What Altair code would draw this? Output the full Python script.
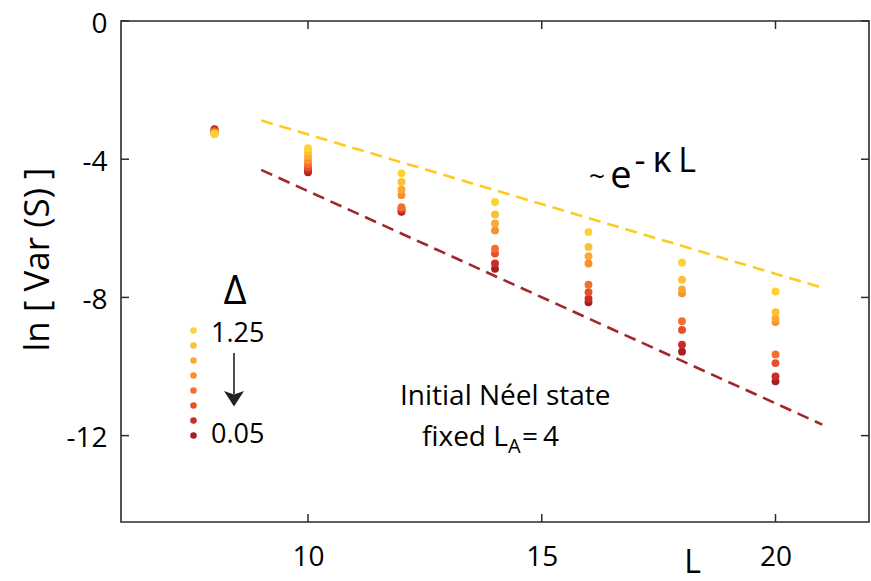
import altair as alt
import pandas as pd

# System sizes L and the eight anisotropies Delta (1.25 down to 0.05)
system_sizes = [8, 10, 12, 14, 16, 18, 20]
delta_labels = ["1.25", "1.10", "0.95", "0.80", "0.60", "0.40", "0.20", "0.05"]
delta_colors = ["#FFD22F", "#FDBF34", "#FBA935", "#F98F31",
                "#F3702C", "#E94F27", "#CD2B27", "#A31F24"]

# ln[Var(S)] for each Delta, one value per system size
ln_var = [
    [-3.26, -3.68, -4.41, -5.24, -6.11, -6.99, -7.83],
    [-3.27, -3.80, -4.66, -5.60, -6.54, -7.49, -8.43],
    [-3.26, -3.91, -4.88, -5.86, -6.81, -7.77, -8.61],
    [-3.24, -4.03, -5.04, -6.06, -7.02, -7.88, -8.71],
    [-3.21, -4.14, -5.39, -6.59, -7.63, -8.69, -9.65],
    [-3.18, -4.23, -5.43, -6.73, -7.85, -8.94, -9.90],
    [-3.15, -4.32, -5.48, -7.02, -8.04, -9.37, -10.29],
    [-3.13, -4.38, -5.52, -7.17, -8.14, -9.57, -10.43],
]

# Exponential-decay guide lines ~ e^{-kappa L}
fit_L = [9, 21]
fit_upper = [-2.88, -7.72]
fit_lower = [-4.31, -11.68]

x_ticks = [10, 15, 20]
y_ticks = [0, -4, -8, -12]

FONT = "Open Sans"
FRAME = "#2b2b2b"
W, H = 748, 501
TICK = 8

x_scale = alt.Scale(domain=[6, 22], nice=False, zero=False)
y_scale = alt.Scale(domain=[-14.5, 0], nice=False, zero=False)

# one axis definition per channel, shared by every layer
x_axis = alt.Axis(values=x_ticks, title="L", grid=False, domain=False,
                  ticks=False, tickSize=0, labelFontSize=28, labelFont=FONT,
                  labelColor="black", labelPadding=21, labelFlush=False,
                  titleFont=FONT, titleFontSize=32, titleFontWeight="normal",
                  titleColor="black", titleX=571, titleY=50,
                  titleBaseline="alphabetic", titleAlign="center")
y_axis = alt.Axis(values=y_ticks, title="ln [ Var (S) ]", grid=False,
                  domain=False, ticks=False, tickSize=0, labelFontSize=28,
                  labelFont=FONT, labelColor="black", labelPadding=14,
                  labelFlush=False, labelBaseline="middle", labelOffset=3,
                  labelExpr="'' + datum.value",
                  titleFont=FONT, titleFontSize=35, titleFontWeight="normal",
                  titleColor="black", titleX=-84, titleY=238, titleAngle=270,
                  titleBaseline="middle", titleAlign="center")


def xenc(field):
    return alt.X(field, type="quantitative", scale=x_scale, axis=x_axis)


def yenc(field):
    return alt.Y(field, type="quantitative", scale=y_scale, axis=y_axis)


rows = []
for label, series in zip(delta_labels, ln_var):
    for L, v in zip(system_sizes, series):
        rows.append({"L": L, "lnvar": v, "delta": label})
# darkest series first so the yellow ones sit on top
points_df = pd.DataFrame(rows).iloc[::-1].reset_index(drop=True)

points = alt.Chart(points_df).mark_circle(size=62, opacity=1).encode(
    x=xenc("L"),
    y=yenc("lnvar"),
    color=alt.Color("delta:N",
                    scale=alt.Scale(domain=delta_labels, range=delta_colors),
                    legend=alt.Legend(orient="none", legendX=69, legendY=306,
                                      title=None, symbolType="circle", symbolSize=42,
                                      symbolStrokeWidth=0, symbolOpacity=1,
                                      labelExpr="''", labelFontSize=4, rowPadding=8,
                                      padding=0)),
)

fit_df = pd.DataFrame({"L": fit_L, "lnvar": fit_upper, "lower": fit_lower})
upper_line = alt.Chart(fit_df).mark_line(color="#FDCB22", strokeWidth=2.6,
                                         strokeDash=[12, 7]).encode(
    x=xenc("L"), y=yenc("lnvar"))
lower_line = alt.Chart(fit_df).mark_line(color="#A3262B", strokeWidth=2.6,
                                         strokeDash=[12, 7]).encode(
    x=xenc("L"), y=yenc("lower"))

# inward-pointing ticks on all four sides of the box
ytick_df = pd.DataFrame({"lnvar": y_ticks})
xtick_df = pd.DataFrame({"L": x_ticks})
tick_style = dict(color=FRAME, strokeWidth=1.5)
left_ticks = alt.Chart(ytick_df).mark_rule(**tick_style).encode(
    y=yenc("lnvar"), x=alt.value(0), x2=alt.value(TICK))
right_ticks = alt.Chart(ytick_df).mark_rule(**tick_style).encode(
    y=yenc("lnvar"), x=alt.value(W - TICK), x2=alt.value(W))
bottom_ticks = alt.Chart(xtick_df).mark_rule(**tick_style).encode(
    x=xenc("L"), y=alt.value(H - TICK), y2=alt.value(H))
top_ticks = alt.Chart(xtick_df).mark_rule(**tick_style).encode(
    x=xenc("L"), y=alt.value(0), y2=alt.value(TICK))

anchor = alt.Data(values=[{}])


def note(text, x, y, size, align="left", baseline="alphabetic"):
    return alt.Chart(anchor).mark_text(font=FONT, fontSize=size, align=align,
                                       baseline=baseline, color="black").encode(
        x=alt.value(x), y=alt.value(y), text=alt.value(text))


notes = [
    note("\u0394", 114, 283, 40, align="center"),
    note("1.25", 90, 321, 27),
    note("0.05", 90, 422, 27),
    note("~", 476, 165, 28, align="center"),
    note("e", 500, 167, 38, align="center"),
    note("-", 519, 151, 34, align="center"),
    note("\u03ba", 541, 151, 36, align="center"),
    note("L", 566, 151, 34, align="center"),
    note("Initial N\u00e9el state", 279, 384, 28),
    note("fixed L", 301, 425, 28),
    note("A", 387, 432, 20),
    note("=", 409, 425, 28, align="center"),
    note("4", 430, 425, 28, align="center"),
]

arrow_shaft = alt.Chart(anchor).mark_rule(color="#222222", strokeWidth=1.6).encode(
    x=alt.value(113), y=alt.value(332), y2=alt.value(373))
arrow_head = alt.Chart(anchor).mark_point(
    shape="M-1,-0.8L0,-0.45L1,-0.8L0,0.75Z", filled=True, size=400, opacity=1,
    color="#222222", strokeWidth=0).encode(x=alt.value(113), y=alt.value(378))

chart = alt.layer(
    points, upper_line, lower_line,
    left_ticks, right_ticks, bottom_ticks, top_ticks,
    arrow_shaft, arrow_head, *notes,
).properties(
    width=W, height=H,
    autosize=alt.AutoSizeParams(type="none"),
    padding={"left": 121, "top": 21, "right": 2, "bottom": 59},
    background="white",
).configure_view(stroke=FRAME, strokeWidth=1.6)

chart.save("out.html", embed_options={"renderer": "svg", "actions": False})
